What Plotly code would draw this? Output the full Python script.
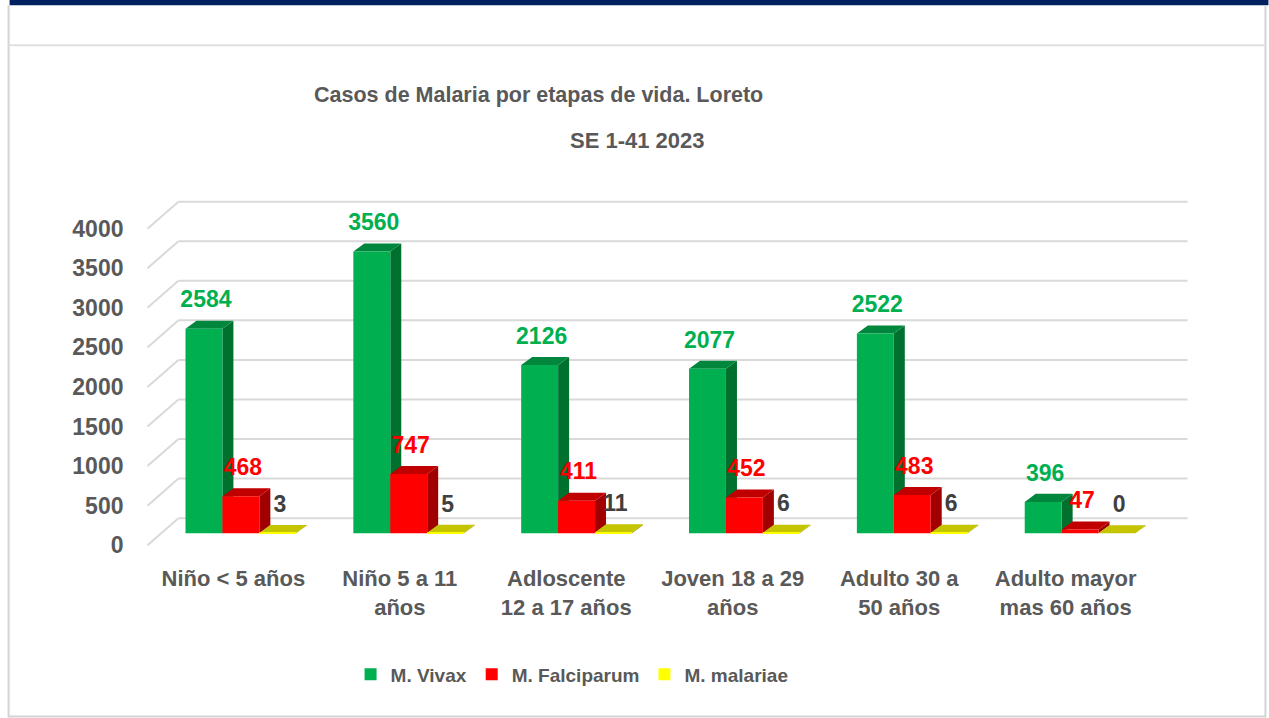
import plotly.graph_objects as go

# datos (SE 1-41 2023, Loreto)
etapas = ["Niño < 5 años", "Niño 5 a 11<br>años", "Adloscente<br>12 a 17 años",
          "Joven 18 a 29<br>años", "Adulto 30 a<br>50 años", "Adulto mayor<br>mas 60 años"]
vivax = [2584, 3560, 2126, 2077, 2522, 396]
falciparum = [468, 747, 411, 452, 483, 47]
malariae = [3, 5, 11, 6, 6, 0]
y_ticks = [0, 500, 1000, 1500, 2000, 2500, 3000, 3500, 4000]

series = [
    dict(name="M. Vivax", vals=vivax, front="#00b050", side="#00702e", top="#00873d", label="#00b050"),
    dict(name="M. Falciparum", vals=falciparum, front="#ff0000", side="#a00000", top="#c00000", label="#ff0000"),
    dict(name="M. malariae", vals=malariae, front="#ffff00", side="#9c9c00", top="#c4c400", label="#404040"),
]

W, H = 1269, 718
# escala en pixeles del plano frontal de las barras
PX_X = 168.0      # px por categoria
X0 = 240.5        # pixel del centro de la primera categoria
PX_Y = 0.079      # px por caso
Y0 = 533.0        # pixel del cero
XR = [-0.75, 5.75]
YR = [-250, 4400]
L = X0 + XR[0] * PX_X
R = X0 + XR[1] * PX_X
B = Y0 - YR[0] * PX_Y
T = Y0 - YR[1] * PX_Y

bar_w = 0.22
offsets = [-0.22, 0.0, 0.22]
dx = 11 / PX_X    # profundidad 3d de las barras
dy = 8 / PX_Y


def px_x(p):
    return (p - X0) / PX_X


def paper_x(p):
    return (p - L) / (R - L)


def paper_y(p):
    return (B - p) / (B - T)


font_fam = "Liberation Sans, Arial, sans-serif"
gray = "#595959"

fig = go.Figure()

# caras laterales y superiores (debajo de las barras)
for s, off in zip(series, offsets):
    sx, sy, tx, ty = [], [], [], []
    for i, v in enumerate(s["vals"]):
        x0 = i + off - bar_w / 2
        x1 = x0 + bar_w
        sx += [x1, x1, x1 + dx, x1 + dx, x1, None]
        sy += [0, v, v + dy, dy, 0, None]
        tx += [x0, x1, x1 + dx, x0 + dx, x0, None]
        ty += [v, v, v + dy, v + dy, v, None]
    fig.add_trace(go.Scatter(x=sx, y=sy, fill="toself", fillcolor=s["side"], mode="none",
                             showlegend=False, hoverinfo="skip"))
    fig.add_trace(go.Scatter(x=tx, y=ty, fill="toself", fillcolor=s["top"], mode="none",
                             showlegend=False, hoverinfo="skip"))

# caras frontales
for s, off in zip(series, offsets):
    fig.add_trace(go.Bar(x=[i + off for i in range(len(etapas))], y=s["vals"], width=bar_w,
                         name="<b>%s</b>" % s["name"], marker=dict(color=s["front"], line=dict(width=0)),
                         xaxis="x2", yaxis="y2"))

# etiquetas de datos
for s, off in zip(series, offsets):
    fig.add_trace(go.Scatter(x=[i + off + 2 / PX_X for i in range(len(etapas))],
                             y=[v + 27 / PX_Y for v in s["vals"]],
                             text=["<b>%d</b>" % v for v in s["vals"]], mode="text",
                             textfont=dict(family=font_fam, size=23, color=s["label"]),
                             textposition="middle center", cliponaxis=False,
                             showlegend=False, hoverinfo="skip", xaxis="x2", yaxis="y2"))

# eje solo para las etiquetas
fig.add_trace(go.Scatter(x=[None], y=[None], xaxis="x3", yaxis="y3", showlegend=False, hoverinfo="skip"))

# lineas de cuadricula (pared del fondo y pared izquierda)
shapes = []
back_l, back_r, front_l = px_x(178), px_x(1188), px_x(147)
for v in y_ticks:
    shapes.append(dict(type="line", xref="x", yref="y", x0=back_l, x1=back_r,
                       y0=v + 15 / PX_Y, y1=v + 15 / PX_Y, layer="below",
                       line=dict(color="#d9d9d9", width=2)))
    shapes.append(dict(type="line", xref="x", yref="y", x0=front_l, x1=back_l,
                       y0=v - 12 / PX_Y, y1=v + 15 / PX_Y, layer="below",
                       line=dict(color="#d9d9d9", width=2)))

# marco del panel
shapes.append(dict(type="rect", xref="paper", yref="paper", x0=paper_x(9), x1=paper_x(W),
                   y0=paper_y(6), y1=paper_y(0), line=dict(width=0), fillcolor="#002060"))
shapes.append(dict(type="line", xref="paper", yref="paper", x0=paper_x(8), x1=paper_x(8),
                   y0=paper_y(6), y1=paper_y(717), line=dict(color="#d4d4d4", width=2)))
shapes.append(dict(type="line", xref="paper", yref="paper", x0=paper_x(1266), x1=paper_x(1266),
                   y0=paper_y(6), y1=paper_y(717), line=dict(color="#d4d4d4", width=2)))
shapes.append(dict(type="line", xref="paper", yref="paper", x0=paper_x(8), x1=paper_x(1266),
                   y0=paper_y(46), y1=paper_y(46), line=dict(color="#e0e0e0", width=2)))
shapes.append(dict(type="line", xref="paper", yref="paper", x0=paper_x(8), x1=paper_x(1266),
                   y0=paper_y(716), y1=paper_y(716), line=dict(color="#d4d4d4", width=2)))

annotations = [
    dict(text="<b>Casos de Malaria por etapas de vida. Loreto</b>", xref="paper", yref="paper",
         x=paper_x(538), y=paper_y(96), showarrow=False, xanchor="center", yanchor="middle",
         font=dict(family=font_fam, size=21.5, color=gray)),
    dict(text="<b>SE 1-41 2023</b>", xref="paper", yref="paper",
         x=paper_x(637), y=paper_y(141), showarrow=False, xanchor="center", yanchor="middle",
         font=dict(family=font_fam, size=22, color=gray)),
]

lab_x0, lab_dx = 233.0, 166.6
fig.update_layout(
    width=W, height=H, autosize=False,
    margin=dict(l=L, r=W - R, t=T, b=H - B, pad=0),
    paper_bgcolor="white", plot_bgcolor="rgba(0,0,0,0)",
    font=dict(family=font_fam, color=gray),
    showlegend=True,
    legend=dict(orientation="h", x=paper_x(572), xanchor="center", y=paper_y(674), yanchor="middle",
                font=dict(family=font_fam, size=19, color=gray), traceorder="normal"),
    shapes=shapes, annotations=annotations,
    xaxis=dict(range=XR, visible=False),
    yaxis=dict(range=YR, visible=False),
    xaxis2=dict(range=XR, visible=False, overlaying="x", anchor="y2"),
    yaxis2=dict(range=YR, visible=False, overlaying="y", anchor="x2"),
    xaxis3=dict(range=[(L - lab_x0) / lab_dx, (R - lab_x0) / lab_dx], overlaying="x", anchor="y3",
                tickvals=list(range(len(etapas))), ticktext=["<b>%s</b>" % e for e in etapas],
                showgrid=False, zeroline=False, showline=False, ticks="",
                ticklabelstandoff=10, tickfont=dict(family=font_fam, size=22, color=gray)),
    yaxis3=dict(range=[YR[0] + 12 / PX_Y, YR[1] + 12 / PX_Y], overlaying="y", anchor="free",
                position=paper_x(123), side="left",
                tickvals=y_ticks, ticktext=["<b>%d</b>" % v for v in y_ticks],
                showgrid=False, zeroline=False, showline=False, ticks="",
                tickfont=dict(family=font_fam, size=23, color=gray)),
)

# sin margen del body para que el grafico quede en 0,0
fig.write_html("out.html", config={"displayModeBar": False},
               post_script="document.body.style.margin='0px';")
